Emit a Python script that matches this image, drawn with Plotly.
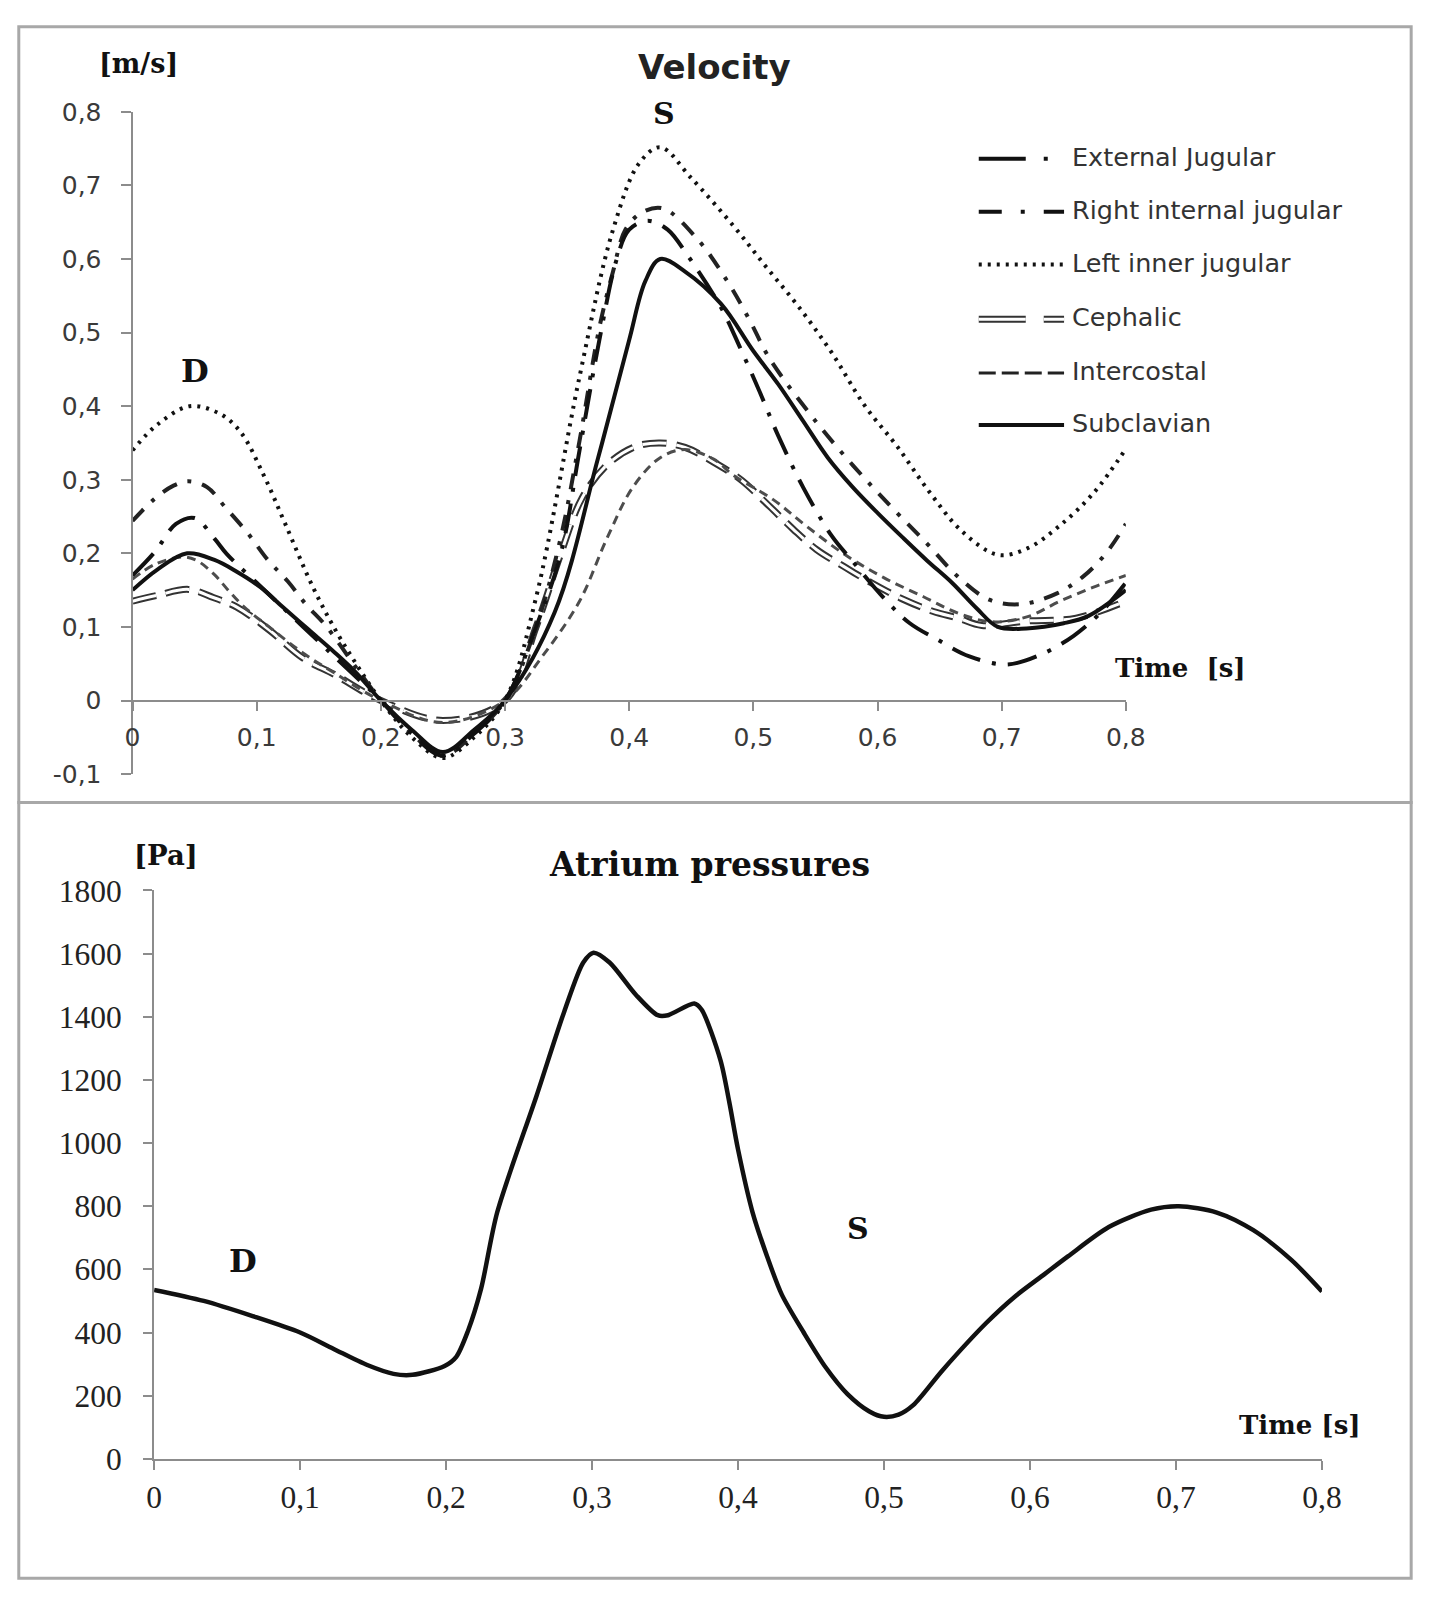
import plotly.graph_objects as go

W, H = 1440, 1602


def px(x):
    return x / W


def py(y):
    return 1 - y / H


# ---------------- data: velocity (top panel) ----------------
ext_jug_t = [0, 0.018, 0.035, 0.05, 0.066, 0.076, 0.1, 0.125, 0.15, 0.175, 0.2, 0.225, 0.25, 0.275, 0.3,
             0.325, 0.345, 0.36, 0.376, 0.39, 0.4, 0.415, 0.431, 0.447, 0.474, 0.49, 0.505, 0.52, 0.54,
             0.563, 0.579, 0.608, 0.626, 0.648, 0.674, 0.704, 0.731, 0.758, 0.78, 0.8]
ext_jug_v = [0.17, 0.202, 0.24, 0.248, 0.22, 0.199, 0.16, 0.12, 0.08, 0.04, 0.0, -0.045, -0.075, -0.045, 0.0,
             0.1, 0.2, 0.34, 0.49, 0.6, 0.64, 0.652, 0.64, 0.605, 0.534, 0.477, 0.42, 0.36, 0.29,
             0.224, 0.191, 0.134, 0.105, 0.083, 0.06, 0.049, 0.062, 0.088, 0.12, 0.16]

right_int_t = [0, 0.017, 0.033, 0.045, 0.06, 0.075, 0.093, 0.109, 0.125, 0.14, 0.155, 0.18, 0.2, 0.225, 0.25,
               0.275, 0.3, 0.325, 0.344, 0.36, 0.376, 0.387, 0.397, 0.41, 0.427, 0.455, 0.479, 0.497, 0.513,
               0.55, 0.58, 0.61, 0.64, 0.665, 0.69, 0.716, 0.745, 0.766, 0.784, 0.8]
right_int_v = [0.244, 0.273, 0.292, 0.298, 0.29, 0.262, 0.227, 0.191, 0.162, 0.13, 0.103, 0.045, 0.0, -0.045,
               -0.075, -0.045, 0.0, 0.1, 0.215, 0.353, 0.507, 0.583, 0.64, 0.663, 0.669, 0.627, 0.57, 0.517,
               0.465, 0.38, 0.32, 0.265, 0.213, 0.168, 0.137, 0.131, 0.146, 0.169, 0.2, 0.24]

left_inner_t = [0, 0.02, 0.046, 0.07, 0.087, 0.106, 0.123, 0.145, 0.162, 0.18, 0.2, 0.225, 0.25, 0.275, 0.3,
                0.325, 0.36, 0.387, 0.408, 0.425, 0.45, 0.484, 0.51, 0.537, 0.563, 0.59, 0.616, 0.642, 0.668,
                0.697, 0.721, 0.747, 0.774, 0.8]
left_inner_v = [0.34, 0.375, 0.40, 0.39, 0.365, 0.305, 0.24, 0.155, 0.10, 0.05, 0.0, -0.05, -0.078, -0.05, 0.0,
                0.14, 0.44, 0.64, 0.73, 0.752, 0.71, 0.645, 0.59, 0.534, 0.473, 0.40, 0.345, 0.283, 0.23,
                0.198, 0.207, 0.238, 0.282, 0.342]

cephalic_t = [0, 0.02, 0.045, 0.065, 0.084, 0.11, 0.137, 0.163, 0.2, 0.25, 0.3, 0.325, 0.345, 0.362, 0.382,
              0.405, 0.425, 0.445, 0.468, 0.49, 0.513, 0.532, 0.551, 0.573, 0.595, 0.62, 0.645, 0.665, 0.684,
              0.72, 0.76, 0.8]
cephalic_v = [0.135, 0.143, 0.151, 0.14, 0.127, 0.096, 0.058, 0.035, 0.0, -0.027, 0.0, 0.1, 0.2, 0.275, 0.32,
              0.345, 0.35, 0.344, 0.324, 0.3, 0.264, 0.233, 0.205, 0.182, 0.16, 0.138, 0.121, 0.112, 0.102,
              0.108, 0.112, 0.135]

intercostal_t = [0, 0.018, 0.04, 0.052, 0.066, 0.077, 0.09, 0.11, 0.137, 0.163, 0.2, 0.25, 0.3, 0.33, 0.36,
                 0.382, 0.403, 0.425, 0.445, 0.468, 0.484, 0.516, 0.542, 0.574, 0.605, 0.637, 0.666, 0.692,
                 0.721, 0.747, 0.774, 0.8]
intercostal_v = [0.165, 0.185, 0.195, 0.19, 0.171, 0.15, 0.127, 0.1, 0.065, 0.037, 0.0, -0.03, 0.0, 0.06, 0.135,
                 0.22, 0.29, 0.33, 0.341, 0.328, 0.306, 0.273, 0.238, 0.198, 0.167, 0.141, 0.118, 0.107,
                 0.114, 0.135, 0.154, 0.17]

subclavian_t = [0, 0.02, 0.044, 0.066, 0.084, 0.103, 0.121, 0.142, 0.163, 0.18, 0.2, 0.225, 0.25, 0.275, 0.3,
                0.34, 0.375, 0.4, 0.413, 0.425, 0.445, 0.474, 0.5, 0.52, 0.54, 0.56, 0.58, 0.6, 0.62, 0.64,
                0.66, 0.68, 0.697, 0.72, 0.75, 0.77, 0.8]
subclavian_v = [0.15, 0.178, 0.2, 0.191, 0.175, 0.154, 0.127, 0.096, 0.065, 0.038, 0.0, -0.04, -0.07, -0.04, 0.0,
                0.12, 0.33, 0.49, 0.57, 0.6, 0.583, 0.539, 0.475, 0.43, 0.38, 0.33, 0.29, 0.255, 0.222, 0.19,
                0.16, 0.125, 0.1, 0.098, 0.105, 0.115, 0.15]

# ---------------- data: atrium pressure (bottom panel) ----------------
pressure_t = [0, 0.034, 0.0675, 0.1, 0.123, 0.146, 0.164, 0.177, 0.199, 0.207, 0.215, 0.224, 0.235, 0.262,
              0.281, 0.294, 0.301, 0.312, 0.33, 0.345, 0.352, 0.37, 0.375, 0.388, 0.394, 0.4, 0.41, 0.42,
              0.43, 0.445, 0.46, 0.475, 0.49, 0.5, 0.51, 0.52, 0.54, 0.57, 0.59, 0.61, 0.626, 0.654, 0.683,
              0.702, 0.728, 0.753, 0.779, 0.8]
pressure_p = [535, 500, 452, 400, 348, 297, 269, 266, 294, 323, 405, 539, 780, 1150,
              1417, 1572, 1603, 1572, 1470, 1405, 1405, 1442, 1423, 1262, 1130, 980, 780, 640,
              520, 400, 290, 205, 150, 133, 140, 170, 280, 430, 515, 585, 641, 734, 789,
              800, 780, 724, 630, 530]

# ---------------- tick labels ----------------
top_x_ticks = [0, 0.1, 0.2, 0.3, 0.4, 0.5, 0.6, 0.7, 0.8]
top_x_labels = ["0", "0,1", "0,2", "0,3", "0,4", "0,5", "0,6", "0,7", "0,8"]
top_y_ticks = [-0.1, 0, 0.1, 0.2, 0.3, 0.4, 0.5, 0.6, 0.7, 0.8]
top_y_labels = ["-0,1", "0", "0,1", "0,2", "0,3", "0,4", "0,5", "0,6", "0,7", "0,8"]
bot_x_ticks = top_x_ticks
bot_x_labels = top_x_labels
bot_y_ticks = [0, 200, 400, 600, 800, 1000, 1200, 1400, 1600, 1800]
bot_y_labels = ["0", "200", "400", "600", "800", "1000", "1200", "1400", "1600", "1800"]

legend_names = ["External Jugular", "Right internal jugular", "Left inner jugular",
                "Cephalic", "Intercostal", "Subclavian"]

AX = "#8c8c8c"
CEPH_DASH = "24px,10px"
fig = go.Figure()

# top traces
fig.add_trace(go.Scatter(x=cephalic_t, y=cephalic_v, mode="lines", name=legend_names[3],
                         line=dict(color="#333333", width=7, dash=CEPH_DASH, shape="spline"),
                         xaxis="x", yaxis="y", showlegend=False))
fig.add_trace(go.Scatter(x=cephalic_t, y=cephalic_v, mode="lines", name=legend_names[3] + " (inner)",
                         line=dict(color="white", width=3, dash=CEPH_DASH, shape="spline"),
                         xaxis="x", yaxis="y", showlegend=False, hoverinfo="skip"))
fig.add_trace(go.Scatter(x=intercostal_t, y=intercostal_v, mode="lines", name=legend_names[4],
                         line=dict(color="#4d4d4d", width=3, dash="9px,6px", shape="spline"),
                         xaxis="x", yaxis="y", showlegend=False))
fig.add_trace(go.Scatter(x=left_inner_t, y=left_inner_v, mode="lines", name=legend_names[2],
                         line=dict(color="#111111", width=4, dash="3px,6px", shape="spline"),
                         xaxis="x", yaxis="y", showlegend=False))
fig.add_trace(go.Scatter(x=right_int_t, y=right_int_v, mode="lines", name=legend_names[1],
                         line=dict(color="#222222", width=4, dash="16px,11px,4px,11px", shape="spline"),
                         xaxis="x", yaxis="y", showlegend=False))
fig.add_trace(go.Scatter(x=ext_jug_t, y=ext_jug_v, mode="lines", name=legend_names[0],
                         line=dict(color="#111111", width=4, dash="30px,12px,4px,12px", shape="spline"),
                         xaxis="x", yaxis="y", showlegend=False))
fig.add_trace(go.Scatter(x=subclavian_t, y=subclavian_v, mode="lines", name=legend_names[5],
                         line=dict(color="#111111", width=4, shape="spline"),
                         xaxis="x", yaxis="y", showlegend=False))

# bottom trace
fig.add_trace(go.Scatter(x=pressure_t, y=pressure_p, mode="lines", name="Atrium pressure",
                         line=dict(color="#111111", width=4.5, shape="spline", smoothing=0.8),
                         xaxis="x2", yaxis="y2", showlegend=False))

# geometry (pixel positions of plot frames)
TOP_X0, TOP_X1, TOP_Y_TOP, TOP_Y_BOT, TOP_ZERO = 127, 1140, 97, 774, 699
BOT_X0, BOT_X1, BOT_Y_TOP, BOT_Y_BOT = 149, 1340, 893, 1474

tick_font_top = dict(family="DejaVu Sans", size=25, color="#3a3a3a")
tick_font_bot = dict(family="Liberation Serif", size=31.5, color="#222222")

fig.update_layout(
    width=W, height=H,
    margin=dict(l=0, r=0, t=0, b=0),
    paper_bgcolor="white", plot_bgcolor="white",
    showlegend=False,
    xaxis=dict(domain=[px(TOP_X0), px(TOP_X1)], range=[0, 0.8], anchor="free", position=py(TOP_ZERO),
               tickvals=top_x_ticks, ticktext=top_x_labels, tickfont=tick_font_top,
               showline=True, linecolor=AX, linewidth=2, ticks="outside", ticklen=9, tickcolor=AX,
               tickwidth=2, showgrid=False, zeroline=False, ticklabelstandoff=5),
    yaxis=dict(domain=[py(TOP_Y_BOT), py(TOP_Y_TOP)], range=[-0.1, 0.8], anchor="x",
               tickvals=top_y_ticks, ticktext=top_y_labels, tickfont=tick_font_top,
               showline=True, linecolor=AX, linewidth=2, ticks="outside", ticklen=10, tickcolor=AX,
               tickwidth=2, showgrid=False, zeroline=False, ticklabelstandoff=14),
    xaxis2=dict(domain=[px(BOT_X0), px(BOT_X1)], range=[0, 0.8], anchor="y2",
                tickvals=bot_x_ticks, ticktext=bot_x_labels, tickfont=tick_font_bot,
                showline=True, linecolor=AX, linewidth=2, ticks="outside", ticklen=9, tickcolor=AX,
                tickwidth=2, showgrid=False, zeroline=False, ticklabelstandoff=0),
    yaxis2=dict(domain=[py(BOT_Y_BOT), py(BOT_Y_TOP)], range=[0, 1800], anchor="x2",
                tickvals=bot_y_ticks, ticktext=bot_y_labels, tickfont=tick_font_bot,
                showline=True, linecolor=AX, linewidth=2, ticks="outside", ticklen=9, tickcolor=AX,
                tickwidth=2, showgrid=False, zeroline=False, ticklabelstandoff=15),
)

shapes = []
BORDER = "#a8a8a8"
shapes.append(dict(type="rect", xref="paper", yref="paper", x0=px(11), x1=px(1431), y0=py(803), y1=py(10),
                   line=dict(color=BORDER, width=3), layer="below"))
shapes.append(dict(type="rect", xref="paper", yref="paper", x0=px(11), x1=px(1431), y0=py(1596), y1=py(803),
                   line=dict(color=BORDER, width=3), layer="below"))

# legend samples (decoration)
LX0, LX1 = 990, 1077
leg_y = [145, 199, 253, 309, 364, 417]
leg_styles = [
    [dict(color="#111111", width=4, dash="47px,18px,4px,40px")],
    [dict(color="#111111", width=4, dash="23px,19px,4px,19px,30px")],
    [dict(color="#111111", width=4, dash="3px,6px")],
    [dict(color="#333333", width=7, dash="47px,18px,30px"), dict(color="white", width=3, dash="47px,18px,30px")],
    [dict(color="#222222", width=3, dash="17px,6px")],
    [dict(color="#111111", width=4)],
]
for yv, sty in zip(leg_y, leg_styles):
    for s in sty:
        shapes.append(dict(type="line", xref="paper", yref="paper", x0=px(LX0), x1=px(LX1),
                           y0=py(yv), y1=py(yv), line=s))
fig.update_layout(shapes=shapes)

ann = []
for name, yv in zip(legend_names, leg_y):
    ann.append(dict(text=name, x=px(1083), y=py(yv - 2), xref="paper", yref="paper", showarrow=False,
                    xanchor="left", yanchor="middle",
                    font=dict(family="DejaVu Sans", size=25.5, color="#333333")))


def label(text, x, y, family, size, color="#111111"):
    ann.append(dict(text=text, x=px(x), y=py(y), xref="paper", yref="paper", showarrow=False,
                    xanchor="center", yanchor="middle", font=dict(family=family, size=size, color=color)))


label("<b>[m/s]</b>", 133, 48, "DejaVu Serif", 27)
label("<b>Velocity</b>", 720, 51, "DejaVu Sans", 34, "#222222")
label("<b>S</b>", 669, 99, "DejaVu Serif", 30)
label("<b>D</b>", 191, 362, "DejaVu Serif", 32)
label("<b>Time\u00a0\u00a0[s]</b>", 1196, 666, "DejaVu Serif", 26)
label("<b>[Pa]</b>", 161, 857, "DejaVu Serif", 27.5)
label("<b>Atrium pressures</b>", 715, 866, "DejaVu Serif", 33)
label("<b>D</b>", 240, 1272, "DejaVu Serif", 32)
label("<b>S</b>", 867, 1239, "DejaVu Serif", 30)
label("<b>Time\u00a0[s]</b>", 1318, 1439, "DejaVu Serif", 26)

fig.update_layout(annotations=ann)

fig.write_html("out.html", config={"displayModeBar": False},
               post_script="document.body.style.margin='0';")
